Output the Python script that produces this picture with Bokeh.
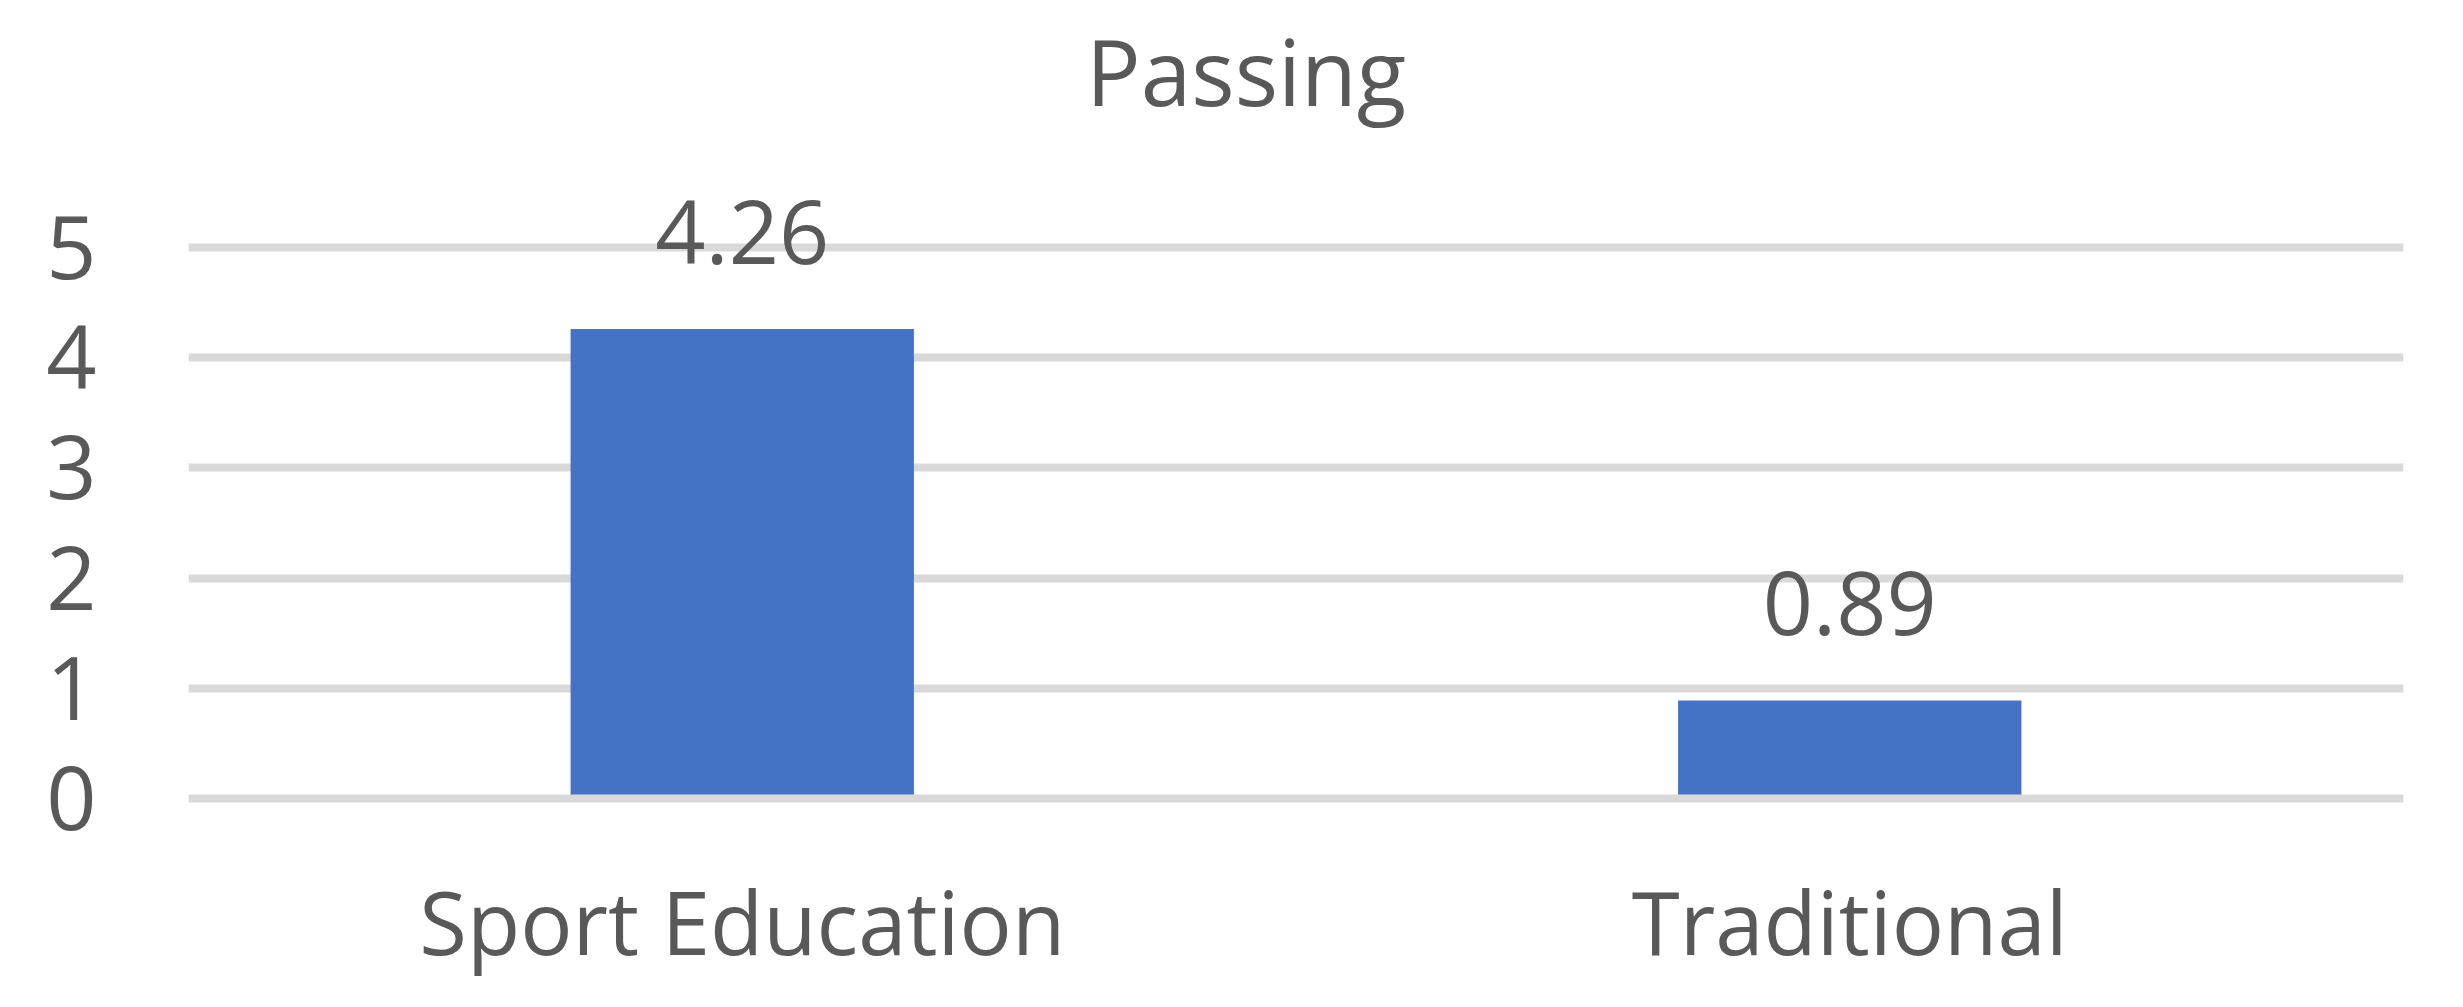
from bokeh.plotting import figure
from bokeh.models import ColumnDataSource, FixedTicker, Range1d, FactorRange
from bokeh.core.properties import value
from bokeh.embed import file_html
from bokeh.resources import INLINE

# ---- data ----
categories = ["Sport Education", "Traditional"]
values = [4.26, 0.89]
value_labels = ["4.26", "0.89"]
y_ticks = [0, 1, 2, 3, 4, 5]
title_text = "Passing"

FONT = "Open Sans"
TEXT_COLOR = "#595959"
BAR_COLOR = "#4472C4"
GRID_COLOR = "#D9D9D9"

src = ColumnDataSource(dict(cat=categories, val=values, lab=value_labels))

PX_PER_UNIT = 110.2
FRAME_H = 798
p = figure(
    x_range=FactorRange(*categories, range_padding=0),
    y_range=Range1d(0, FRAME_H / PX_PER_UNIT),
    width=2447, height=991,
    output_backend="svg", toolbar_location=None,
    min_border_left=188, min_border_right=44,
    min_border_top=0, min_border_bottom=991 - FRAME_H,
    title=None,
)
p.outline_line_color = None
p.background_fill_color = "white"
p.border_fill_color = "white"

p.vbar(x="cat", top="val", width=0.31, source=src,
       fill_color=BAR_COLOR, line_color=None)

# data labels
p.text(x="cat", y="val", text="lab", source=src, y_offset=-97,
       text_align="center", text_baseline="alphabetic",
       text_font=value(FONT), text_font_size="88px", text_color=TEXT_COLOR)

# chart title (centred over whole chart area)
p.text(x=[0.955], y=[(FRAME_H - 100) / PX_PER_UNIT], text=[title_text],
       y_offset=-30,
       text_align="center", text_baseline="alphabetic",
       text_font=value(FONT), text_font_size="91px", text_color=TEXT_COLOR)

# y axis
p.yaxis.ticker = FixedTicker(ticks=y_ticks)
p.yaxis.axis_line_color = None
p.yaxis.major_tick_line_color = None
p.yaxis.minor_tick_line_color = None
p.yaxis.major_label_standoff = 86
p.yaxis.major_label_text_font = FONT
p.yaxis.major_label_text_font_size = "88px"
p.yaxis.major_label_text_color = TEXT_COLOR

# x axis
p.xaxis.axis_line_color = GRID_COLOR
p.xaxis.axis_line_width = 8
p.xaxis.major_tick_line_color = None
p.xaxis.minor_tick_line_color = None
p.xaxis.major_label_standoff = 57
p.xaxis.major_label_text_font = FONT
p.xaxis.major_label_text_font_size = "87px"
p.xaxis.major_label_text_color = TEXT_COLOR

# grid
p.xgrid.grid_line_color = None
p.ygrid.ticker = FixedTicker(ticks=y_ticks)
p.ygrid.grid_line_color = GRID_COLOR
p.ygrid.grid_line_width = 8

open("out.html", "w").write(file_html(p, INLINE))
